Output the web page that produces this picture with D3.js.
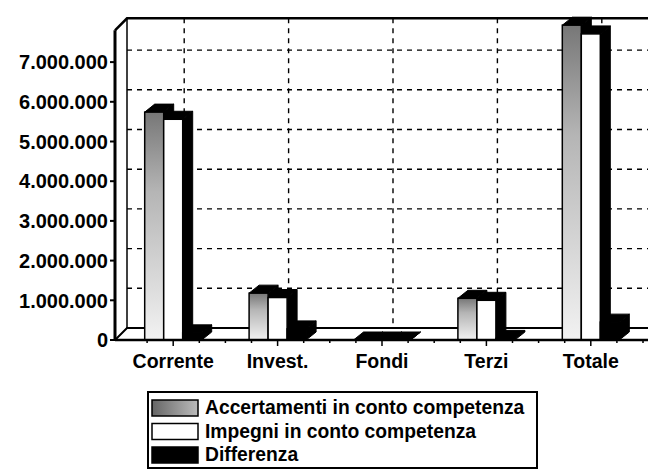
<!DOCTYPE html>
<html>
<head>
<meta charset="utf-8">
<script src="https://cdn.jsdelivr.net/npm/d3@7"></script>
<style>
  body { margin: 0; background: #fff; }
  text { font-family: "Liberation Sans", Arial, sans-serif; font-weight: bold; fill: #000; }
</style>
</head>
<body>
<svg id="chart" width="648" height="476"></svg>
<script>
// data
const categories = ["Corrente", "Invest.", "Fondi", "Terzi", "Totale"];
const seriesNames = ["Accertamenti in conto competenza", "Impegni in conto competenza", "Differenza"];
const accertamenti = [5740000, 1180000, 0, 1050000, 7930000];
const impegni = [5560000, 1070000, 0, 1000000, 7710000];
const differenza = [180000, 280000, 0, 40000, 450000];
const yTicks = [0, 1000000, 2000000, 3000000, 4000000, 5000000, 6000000, 7000000];

const svg = d3.select("#chart");
const W = 648;

// front plane geometry
const axisX = 115, baseY = 340;
const wallDx = 12, wallDy = -12;   // depth of the walls
const barDx = 10, barDy = -8;      // depth of each bar

const y = d3.scaleLinear().domain([0, 8000000]).range([baseY, 22.4]);
const x = d3.scaleBand().domain(categories).range([121, 643]).padding(0);
const barW = 19;

const fmt = d3.formatLocale({ decimal: ",", thousands: ".", grouping: [3], currency: ["", "€"] }).format(",d");

// gradients for the speckled grey bars
const defs = svg.append("defs");
const grad = defs.append("linearGradient").attr("id", "greyGrad")
  .attr("x1", 0).attr("y1", 0).attr("x2", 0).attr("y2", 1);
grad.append("stop").attr("offset", "0%").attr("stop-color", "#777");
grad.append("stop").attr("offset", "35%").attr("stop-color", "#b5b5b5");
grad.append("stop").attr("offset", "100%").attr("stop-color", "#f2f2f2");
const gradL = defs.append("linearGradient").attr("id", "greyGradL")
  .attr("x1", 0).attr("y1", 0).attr("x2", 1).attr("y2", 0);
gradL.append("stop").attr("offset", "0%").attr("stop-color", "#666");
gradL.append("stop").attr("offset", "100%").attr("stop-color", "#bbb");

const topY = y(7800000); // top of front axis
const backTop = topY + wallDy;
const backBase = baseY + wallDy;

// floor slab
svg.append("path")
  .attr("d", `M${axisX},${baseY} L${W + 20},${baseY} L${W + 20 + wallDx},${backBase} L${axisX + wallDx},${backBase} Z`)
  .attr("fill", "#fff").attr("stroke", "#000").attr("stroke-width", 2);

// back wall grid (dashed)
const grid = svg.append("g");
grid.selectAll(".hgrid")
  .data(yTicks.filter(d => d > 0))
  .enter().append("line")
  .attr("x1", axisX + wallDx).attr("x2", W)
  .attr("y1", d => y(d) + wallDy).attr("y2", d => y(d) + wallDy)
  .attr("stroke", "#000").attr("stroke-width", 1.4).attr("stroke-dasharray", "5,5");
grid.selectAll(".vgrid")
  .data(categories)
  .enter().append("line")
  .attr("x1", d => x(d) + x.bandwidth() / 2 + wallDx - 1)
  .attr("x2", d => x(d) + x.bandwidth() / 2 + wallDx - 1)
  .attr("y1", backTop).attr("y2", backBase)
  .attr("stroke", "#000").attr("stroke-width", 1.4).attr("stroke-dasharray", "5,5");

// wall frame
svg.append("line").attr("x1", axisX + wallDx).attr("x2", axisX + wallDx)
  .attr("y1", backTop).attr("y2", backBase).attr("stroke", "#000").attr("stroke-width", 1.5);
svg.append("path")
  .attr("d", `M${axisX},${topY} L${axisX + wallDx},${backTop} L${W},${backTop}`)
  .attr("fill", "none").attr("stroke", "#000").attr("stroke-width", 2.5);

// 3D bars
const values = [accertamenti, impegni, differenza];
const fronts = ["url(#greyGrad)", "#fff", "#000"];
const bars = [];
categories.forEach((c, ci) => {
  const cx = x(c) + x.bandwidth() / 2;
  values.forEach((vals, si) => {
    bars.push({ cat: c, series: si, x0: cx - 1.5 * barW + si * barW, v: vals[ci] });
  });
});

const barG = svg.append("g");
bars.forEach(b => {
  const g = barG.append("g");
  const x0 = b.x0, x1 = b.x0 + barW, yt = y(b.v), yb = baseY;
  // side
  g.append("path")
    .attr("d", `M${x1},${yb} L${x1 + barDx},${yb + barDy} L${x1 + barDx},${yt + barDy} L${x1},${yt} Z`)
    .attr("fill", "#000").attr("stroke", "#000").attr("stroke-width", 1);
  // top
  g.append("path")
    .attr("d", `M${x0},${yt} L${x0 + barDx},${yt + barDy} L${x1 + barDx},${yt + barDy} L${x1},${yt} Z`)
    .attr("fill", "#000").attr("stroke", "#000").attr("stroke-width", 1);
  // front
  g.append("rect")
    .attr("x", x0).attr("y", yt).attr("width", barW).attr("height", Math.max(0, yb - yt))
    .attr("fill", fronts[b.series])
    .attr("stroke", "#000").attr("stroke-width", 1.5);
});

// front axes
svg.append("line").attr("x1", axisX).attr("x2", axisX).attr("y1", baseY).attr("y2", topY)
  .attr("stroke", "#000").attr("stroke-width", 3);
svg.append("line").attr("x1", axisX).attr("x2", W).attr("y1", baseY).attr("y2", baseY)
  .attr("stroke", "#000").attr("stroke-width", 2.5);

// y ticks and labels
const yAxis = svg.append("g");
yAxis.selectAll(".ytick")
  .data(yTicks)
  .enter().append("line")
  .attr("x1", axisX - 5).attr("x2", axisX)
  .attr("y1", d => y(d)).attr("y2", d => y(d))
  .attr("stroke", "#000").attr("stroke-width", 2);
yAxis.selectAll(".ylab")
  .data(yTicks)
  .enter().append("text")
  .attr("x", axisX - 7).attr("y", d => y(d) + 2)
  .attr("text-anchor", "end").attr("dominant-baseline", "middle")
  .style("font-size", "20px")
  .text(d => fmt(d));

// x ticks (major at centre, minor every quarter band)
const xAxis = svg.append("g");
const step = x.step();
const minor = [];
categories.forEach(c => {
  const cx = x(c) + x.bandwidth() / 2;
  [-1, 1].forEach(k => minor.push(cx + k * step / 4));
  minor.push(x(c) + step);
});
xAxis.selectAll(".xminor").data(minor).enter().append("line")
  .attr("x1", d => d).attr("x2", d => d).attr("y1", baseY).attr("y2", baseY + 3)
  .attr("stroke", "#000").attr("stroke-width", 1.5);
xAxis.selectAll(".xmajor").data(categories).enter().append("line")
  .attr("x1", d => x(d) + x.bandwidth() / 2).attr("x2", d => x(d) + x.bandwidth() / 2)
  .attr("y1", baseY).attr("y2", baseY + 6)
  .attr("stroke", "#000").attr("stroke-width", 1.5);
xAxis.selectAll(".xlab").data(categories).enter().append("text")
  .attr("x", d => x(d) + x.bandwidth() / 2).attr("y", 363)
  .attr("text-anchor", "middle").attr("dominant-baseline", "middle")
  .style("font-size", "19.5px")
  .text(d => d);

// legend
const lg = svg.append("g");
lg.append("rect").attr("x", 148).attr("y", 392).attr("width", 389).attr("height", 76)
  .attr("fill", "#fff").attr("stroke", "#000").attr("stroke-width", 2);
const legY = d3.scalePoint().domain(seriesNames).range([408, 455]);
const swFill = ["url(#greyGradL)", "#fff", "#000"];
lg.selectAll(".sw").data(seriesNames).enter().append("rect")
  .attr("x", 152).attr("y", d => legY(d) - 8).attr("width", 46).attr("height", 16)
  .attr("fill", (d, i) => swFill[i]).attr("stroke", "#000").attr("stroke-width", 1.5);
lg.selectAll(".lt").data(seriesNames).enter().append("text")
  .attr("x", 205).attr("y", d => legY(d) + 1)
  .attr("dominant-baseline", "middle")
  .style("font-size", "19.3px")
  .text(d => d);
</script>
</body>
</html>
